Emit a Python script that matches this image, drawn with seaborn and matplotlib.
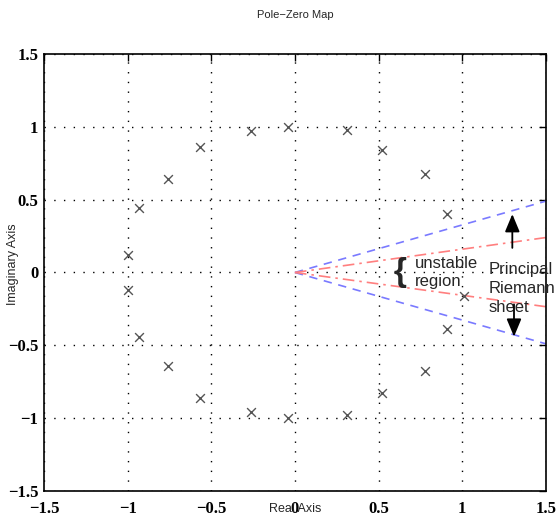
import numpy as np
import pandas as pd
import seaborn as sns
import matplotlib
matplotlib.use('Agg')
import matplotlib.pyplot as plt

# pole locations
pole_re = [-1.0, -0.93, -0.76, -0.57, -0.26, -0.04, 0.31, 0.52, 0.78, 0.91,
           -1.0, -0.93, -0.76, -0.57, -0.26, -0.04, 0.31, 0.52, 0.78, 0.91, 1.01]
pole_im = [0.12, 0.44, 0.64, 0.86, 0.97, 1.0, 0.98, 0.84, 0.68, 0.40,
           -0.12, -0.44, -0.64, -0.86, -0.96, -1.0, -0.98, -0.83, -0.68, -0.39, -0.16]

# boundary rays of the principal sheet (blue) and unstable region (red)
sheet_x = [0.0, 1.5]
sheet_upper = [0.0, 0.49]
sheet_lower = [0.0, -0.49]
unst_upper = [0.0, 0.24]
unst_lower = [0.0, -0.235]

ticks = [-1.5, -1, -0.5, 0, 0.5, 1, 1.5]
tick_labels = ['\u22121.5', '\u22121', '\u22120.5', '0', '0.5', '1', '1.5']

poles = pd.DataFrame({'re': pole_re, 'im': pole_im})

sns.set_style('white')
plt.rcParams['font.family'] = ['Liberation Sans', 'DejaVu Sans']

fig = plt.figure(figsize=(5.6, 5.21), dpi=100)
ax = fig.add_axes([0.0786, 0.058, 0.896, 0.838])

for ys, col, ls in [(sheet_upper, '#7a7aff', (0, (5, 4))), (sheet_lower, '#7a7aff', (0, (5, 4))),
                    (unst_upper, '#ff7f7f', (0, (7, 3, 1.5, 3))), (unst_lower, '#ff7f7f', (0, (7, 3, 1.5, 3)))]:
    sns.lineplot(x=sheet_x, y=ys, ax=ax, color=col, linewidth=1.2, linestyle=ls)

sns.scatterplot(data=poles, x='re', y='im', ax=ax, marker='x', color='#555555',
                s=40, linewidth=1.0, zorder=5)

ax.set_xlim(-1.5, 1.5)
ax.set_ylim(-1.5, 1.5)
ax.set_xticks(ticks)
ax.set_yticks(ticks)
ax.set_xticklabels(tick_labels, family='Liberation Serif', fontweight='bold', fontsize=12)
ax.set_yticklabels(tick_labels, family='Liberation Serif', fontweight='bold', fontsize=12)
ax.tick_params(direction='in', length=5, width=1, top=True, right=True, colors='black')
ax.tick_params(axis='x', pad=7)
ax.tick_params(axis='y', pad=4)
ax.grid(True, color='black', linestyle=(0, (1, 6)), linewidth=1.0)
for sp in ax.spines.values():
    sp.set_color('black')
    sp.set_linewidth(1.2)

ax.set_xlabel('Real Axis', fontsize=9)
ax.xaxis.set_label_coords(0.5, -0.028)
ax.set_ylabel('Imaginary Axis', fontsize=9)
ax.yaxis.set_label_coords(-0.05, 0.52)
fig.text(0.527, 0.972, 'Pole\u2212Zero Map', fontsize=8, ha='center', va='center')

# annotations
ax.text(0.63, 0.0, '{', fontsize=24, ha='center', va='center', fontweight='bold')
ax.text(0.72, 0.0, 'unstable\nregion', fontsize=12, ha='left', va='center', linespacing=1.3)
ax.text(1.16, -0.11, 'Principal\nRiemann\nsheet', fontsize=12, ha='left', va='center',
        linespacing=1.3, clip_on=False)
ax.annotate('', xy=(1.3, 0.42), xytext=(1.3, 0.15),
            arrowprops=dict(arrowstyle='-|>,head_length=0.6,head_width=0.25', color='black',
                            lw=1.3, mutation_scale=18))
ax.annotate('', xy=(1.31, -0.46), xytext=(1.31, -0.2),
            arrowprops=dict(arrowstyle='-|>,head_length=0.6,head_width=0.25', color='black',
                            lw=1.3, mutation_scale=18))

fig.savefig('out.png', dpi=100)
